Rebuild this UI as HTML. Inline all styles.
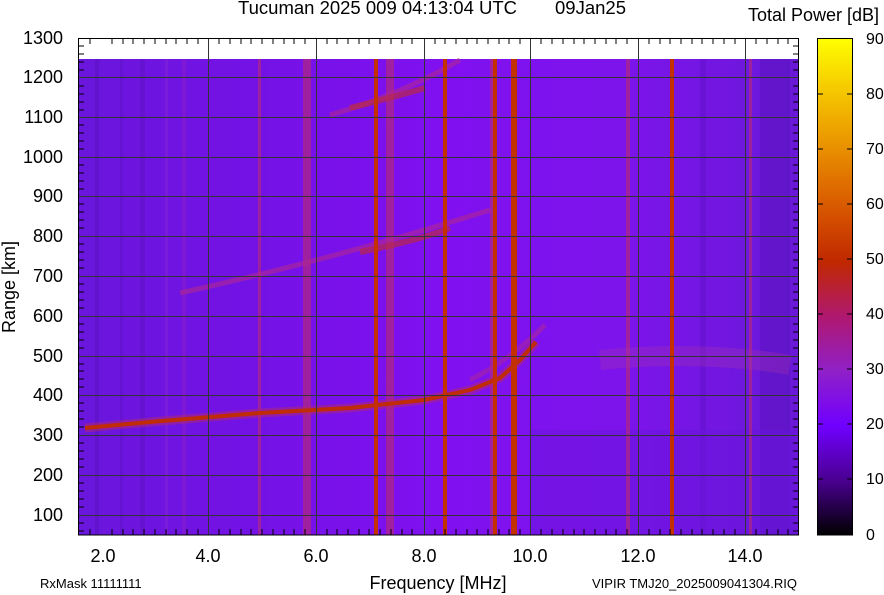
<!DOCTYPE html>
<html><head><meta charset="utf-8"><style>
body{margin:0;background:#fff;}
svg{display:block;font-family:"Liberation Sans",sans-serif;}
</style></head><body>
<svg width="884" height="595" viewBox="0 0 884 595" xmlns="http://www.w3.org/2000/svg">
<defs>
<linearGradient id="bg" x1="0" x2="1" y1="0" y2="0">
<stop offset="0" stop-color="#6a16dc"/><stop offset="0.25" stop-color="#7412e6"/>
<stop offset="0.5" stop-color="#8010f0"/><stop offset="0.75" stop-color="#7d14ec"/><stop offset="1" stop-color="#6a18d8"/>
</linearGradient>
<linearGradient id="cb" x1="0" x2="0" y1="1" y2="0">
<stop offset="0" stop-color="#000000"/><stop offset="0.11" stop-color="#4a0090"/>
<stop offset="0.22" stop-color="#7000ff"/><stop offset="0.33" stop-color="#9020c8"/>
<stop offset="0.44" stop-color="#b01870"/><stop offset="0.55" stop-color="#c02800"/>
<stop offset="0.66" stop-color="#d85800"/><stop offset="0.77" stop-color="#e88c00"/>
<stop offset="0.88" stop-color="#f4c000"/><stop offset="1" stop-color="#ffff00"/>
</linearGradient>
</defs>
<rect x="78" y="59" width="721" height="476" fill="url(#bg)"/>
<g opacity="0.35">
<rect x="95" y="59" width="4" height="476" fill="#5010b0"/><rect x="120" y="59" width="3" height="476" fill="#5a10c0"/>
<rect x="140" y="59" width="5" height="476" fill="#5810b8"/><rect x="165" y="59" width="3" height="476" fill="#9030d0"/>
<rect x="182" y="59" width="4" height="476" fill="#9a20c0"/><rect x="700" y="59" width="6" height="476" fill="#5a10c0"/>
<rect x="760" y="59" width="30" height="476" fill="#5010b0"/>
</g>
<rect x="530" y="430" width="269" height="105" fill="#6a14dc" opacity="0.5"/>
<g fill="#b02880" opacity="0.7">
<rect x="258" y="59" width="3" height="476"/><rect x="303" y="59" width="8" height="476"/>
<rect x="386" y="59" width="8" height="476"/><rect x="626" y="59" width="4" height="476"/>
<rect x="749" y="59" width="3" height="476"/><rect x="490" y="59" width="3" height="476"/>
</g>
<path d="M180 293 Q330 260 490 210" stroke="#b02890" stroke-width="5" fill="none" opacity="0.6"/>
<path d="M360 252 Q420 240 450 228" stroke="#b82848" stroke-width="6" fill="none" opacity="0.7"/>
<path d="M330 115 Q400 95 460 60" stroke="#b02890" stroke-width="5" fill="none" opacity="0.6"/>
<path d="M350 108 Q390 98 425 88" stroke="#b82848" stroke-width="6" fill="none" opacity="0.7"/>
<path d="M470 380 Q510 360 545 325" stroke="#b02890" stroke-width="5" fill="none" opacity="0.5"/>
<path d="M600 360 Q700 350 790 365" stroke="#a030b0" stroke-width="20" fill="none" opacity="0.35"/>
<path d="M85 428 L150 422 L260 413 L350 408 L424 400 L470 390 L500 378 L520 360 L536 342" stroke="#b02870" stroke-width="9" fill="none" opacity="0.5"/>
<path d="M85 428 L150 422 L260 413 L350 408 L424 400 L470 390 L500 378 L520 360 L536 342" stroke="#c02c08" stroke-width="4" fill="none"/>
<g fill="#c43000">
<rect x="374" y="59" width="4" height="476"/><rect x="443" y="59" width="4" height="476"/>
<rect x="493" y="59" width="4" height="476"/><rect x="511" y="59" width="6" height="476"/>
<rect x="670" y="59" width="4" height="476"/>
</g>
<g stroke="#333" stroke-width="1">
<line x1="208.5" y1="38" x2="208.5" y2="535"/><line x1="316.5" y1="38" x2="316.5" y2="535"/>
<line x1="424.5" y1="38" x2="424.5" y2="535"/><line x1="530.5" y1="38" x2="530.5" y2="535"/>
<line x1="638.5" y1="38" x2="638.5" y2="535"/><line x1="745.5" y1="38" x2="745.5" y2="535"/>
<line x1="78" y1="77.5" x2="799" y2="77.5"/><line x1="78" y1="117.5" x2="799" y2="117.5"/>
<line x1="78" y1="157.5" x2="799" y2="157.5"/><line x1="78" y1="196.5" x2="799" y2="196.5"/>
<line x1="78" y1="236.5" x2="799" y2="236.5"/><line x1="78" y1="276.5" x2="799" y2="276.5"/>
<line x1="78" y1="316.5" x2="799" y2="316.5"/><line x1="78" y1="356.5" x2="799" y2="356.5"/>
<line x1="78" y1="395.5" x2="799" y2="395.5"/><line x1="78" y1="435.5" x2="799" y2="435.5"/>
<line x1="78" y1="475.5" x2="799" y2="475.5"/><line x1="78" y1="515.5" x2="799" y2="515.5"/>
</g>
<rect x="78.5" y="38.5" width="720" height="496.5" fill="none" stroke="#000"/>
<path stroke="#000" stroke-width="1" d="
M78 46h6M78 54h6M78 62h6M78 70h6M78 86h6M78 94h6M78 102h6M78 110h6M78 125h6M78 133h6M78 141h6M78 149h6
M78 165h6M78 173h6M78 181h6M78 189h6M78 204h6M78 212h6M78 220h6M78 228h6M78 244h6M78 252h6M78 260h6M78 268h6
M78 284h6M78 292h6M78 300h6M78 308h6M78 324h6M78 332h6M78 340h6M78 348h6M78 364h6M78 371h6M78 379h6M78 387h6
M78 403h6M78 411h6M78 419h6M78 427h6M78 443h6M78 451h6M78 459h6M78 467h6M78 483h6M78 491h6M78 499h6M78 507h6M78 523h6M78 531h6
M799 46h-6M799 54h-6M799 62h-6M799 70h-6M799 86h-6M799 94h-6M799 102h-6M799 110h-6M799 125h-6M799 133h-6M799 141h-6M799 149h-6
M799 165h-6M799 173h-6M799 181h-6M799 189h-6M799 204h-6M799 212h-6M799 220h-6M799 228h-6M799 244h-6M799 252h-6M799 260h-6M799 268h-6
M799 284h-6M799 292h-6M799 300h-6M799 308h-6M799 324h-6M799 332h-6M799 340h-6M799 348h-6M799 364h-6M799 371h-6M799 379h-6M799 387h-6
M799 403h-6M799 411h-6M799 419h-6M799 427h-6M799 443h-6M799 451h-6M799 459h-6M799 467h-6M799 483h-6M799 491h-6M799 499h-6M799 507h-6M799 523h-6M799 531h-6"/>
<path stroke="#000" d="
M90 38v6M112 38v6M123 38v6M133 38v6M144 38v6M155 38v6M166 38v6M176 38v6M187 38v6M198 38v6M219 38v6M230 38v6M241 38v6M251 38v6M262 38v6M273 38v6M284 38v6M294 38v6M305 38v6
M327 38v6M337 38v6M348 38v6M359 38v6M369 38v6M380 38v6M391 38v6M402 38v6M412 38v6M435 38v6M445 38v6M456 38v6M467 38v6M477 38v6M488 38v6M499 38v6M509 38v6M520 38v6
M541 38v6M552 38v6M563 38v6M574 38v6M584 38v6M595 38v6M606 38v6M616 38v6M627 38v6M649 38v6M660 38v6M670 38v6M681 38v6M692 38v6M702 38v6M713 38v6M724 38v6M735 38v6M756 38v6M767 38v6M778 38v6M788 38v6
M90 535v-6M112 535v-6M123 535v-6M133 535v-6M144 535v-6M155 535v-6M166 535v-6M176 535v-6M187 535v-6M198 535v-6M219 535v-6M230 535v-6M241 535v-6M251 535v-6M262 535v-6M273 535v-6M284 535v-6M294 535v-6M305 535v-6
M327 535v-6M337 535v-6M348 535v-6M359 535v-6M369 535v-6M380 535v-6M391 535v-6M402 535v-6M412 535v-6M435 535v-6M445 535v-6M456 535v-6M467 535v-6M477 535v-6M488 535v-6M499 535v-6M509 535v-6M520 535v-6
M541 535v-6M552 535v-6M563 535v-6M574 535v-6M584 535v-6M595 535v-6M606 535v-6M616 535v-6M627 535v-6M649 535v-6M660 535v-6M670 535v-6M681 535v-6M692 535v-6M702 535v-6M713 535v-6M724 535v-6M735 535v-6M756 535v-6M767 535v-6M778 535v-6M788 535v-6"/>
<g font-size="18" text-anchor="end" fill="#000">
<text x="63" y="44">1300</text><text x="63" y="83">1200</text><text x="63" y="123">1100</text>
<text x="63" y="163">1000</text><text x="63" y="202">900</text><text x="63" y="242">800</text>
<text x="63" y="282">700</text><text x="63" y="322">600</text><text x="63" y="362">500</text>
<text x="63" y="401">400</text><text x="63" y="441">300</text><text x="63" y="481">200</text><text x="63" y="521">100</text>
</g>
<g font-size="18" text-anchor="middle">
<text x="103" y="562">2.0</text><text x="208" y="562">4.0</text><text x="316" y="562">6.0</text>
<text x="424" y="562">8.0</text><text x="530" y="562">10.0</text><text x="638" y="562">12.0</text><text x="745" y="562">14.0</text>
</g>
<text x="438" y="589" font-size="18" text-anchor="middle">Frequency [MHz]</text>
<text transform="translate(15,287) rotate(-90)" font-size="18" text-anchor="middle">Range [km]</text>
<text x="238" y="14" font-size="18.5">Tucuman 2025 009 04:13:04 UTC</text>
<text x="555" y="14" font-size="18.5">09Jan25</text>
<text x="879" y="21" font-size="18" text-anchor="end">Total Power [dB]</text>
<text x="40" y="588" font-size="13">RxMask 11111111</text>
<text x="592" y="588" font-size="13">VIPIR  TMJ20_2025009041304.RIQ</text>
<rect x="817.5" y="38.5" width="35" height="496.5" fill="url(#cb)" stroke="#000"/>
<g stroke="#000"><path d="M817 94h6M853 94h-6M817 149h6M853 149h-6M817 204h6M853 204h-6M817 259h6M853 259h-6M817 314h6M853 314h-6M817 369h6M853 369h-6M817 424h6M853 424h-6M817 479h6M853 479h-6"/></g>
<g font-size="16" fill="#000">
<text x="866" y="44">90</text><text x="866" y="99">80</text><text x="866" y="154">70</text>
<text x="866" y="209">60</text><text x="866" y="264">50</text><text x="866" y="319">40</text>
<text x="866" y="374">30</text><text x="866" y="429">20</text><text x="866" y="484">10</text><text x="866" y="540">0</text>
</g>
</svg>
</body></html>
